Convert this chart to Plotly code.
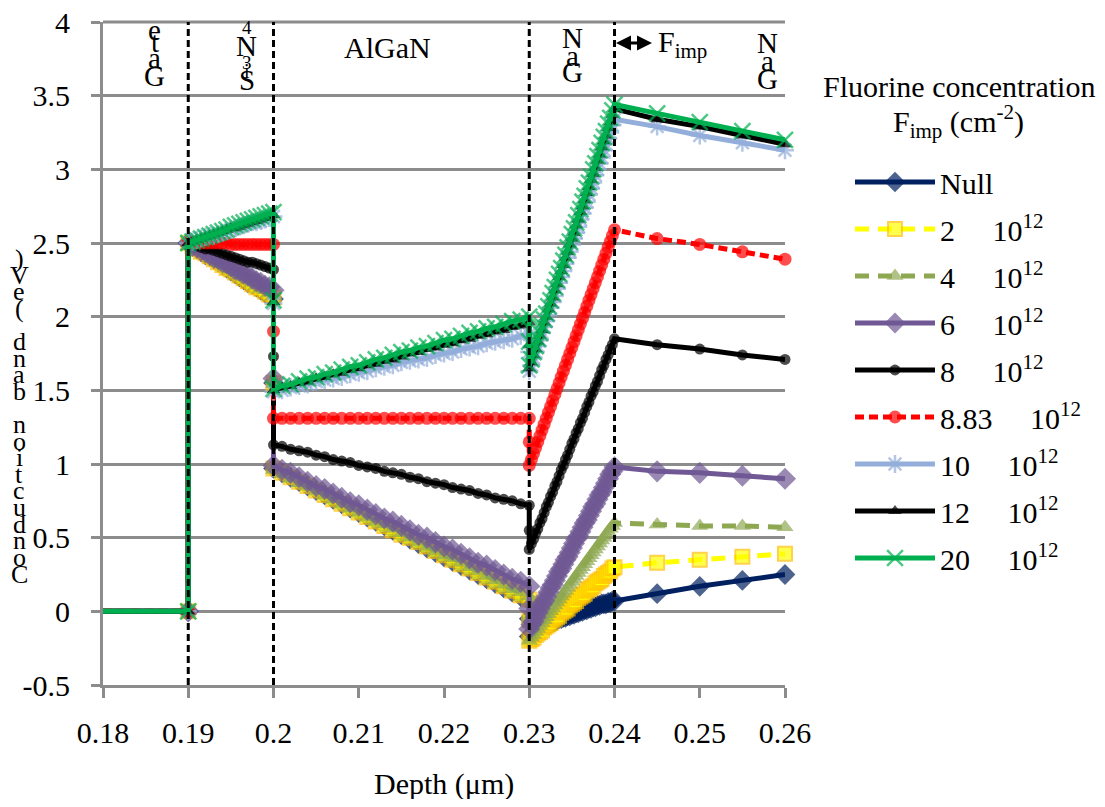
import plotly.graph_objects as go

# ---------------- data ----------------
DEPTH = [0.18, 0.19,
         0.19, 0.1905, 0.191, 0.1915, 0.192, 0.1925, 0.193, 0.1935, 0.194, 0.1945, 0.195,
         0.1955, 0.196, 0.1965, 0.197, 0.1975, 0.198, 0.1985, 0.199, 0.1995, 0.2,
         0.2,
         0.2, 0.201, 0.202, 0.203, 0.204, 0.205, 0.206, 0.207, 0.208, 0.209, 0.21,
         0.211, 0.212, 0.213, 0.214, 0.215, 0.216, 0.217, 0.218, 0.219, 0.22,
         0.221, 0.222, 0.223, 0.224, 0.225, 0.226, 0.227, 0.228, 0.229, 0.23,
         0.23,
         0.23, 0.23025, 0.2305, 0.23075, 0.231, 0.23125, 0.2315, 0.23175, 0.232, 0.23225,
         0.2325, 0.23275, 0.233, 0.23325, 0.2335, 0.23375, 0.234, 0.23425, 0.2345, 0.23475,
         0.235, 0.23525, 0.2355, 0.23575, 0.236, 0.23625, 0.2365, 0.23675, 0.237, 0.23725,
         0.2375, 0.23775, 0.238, 0.23825, 0.2385, 0.23875, 0.239, 0.23925, 0.2395, 0.23975, 0.24,
         0.245, 0.25, 0.255, 0.26]

F_NULL = [0, 0,
          2.50, 2.48, 2.46, 2.44, 2.42, 2.41, 2.39, 2.37, 2.35, 2.33, 2.31,
          2.29, 2.27, 2.25, 2.23, 2.22, 2.20, 2.18, 2.16, 2.14, 2.12,
          1.55,
          0.97, 0.94, 0.91, 0.88, 0.85, 0.82, 0.79, 0.76, 0.73, 0.70, 0.67, 0.64, 0.61, 0.58, 0.55, 0.52,
          0.49, 0.46, 0.43, 0.40, 0.37, 0.34, 0.31, 0.28, 0.25, 0.22, 0.19, 0.16, 0.13, 0.10, 0.07,
          -0.05,
          -0.17, -0.16, -0.14, -0.13, -0.12, -0.12, -0.11, -0.10, -0.09, -0.09,
          -0.08, -0.07, -0.07, -0.06, -0.05, -0.05, -0.04, -0.04, -0.03, -0.03,
          -0.02, -0.02, -0.01, -0.01, 0.00, 0.00, 0.01, 0.01, 0.02, 0.02,
          0.03, 0.03, 0.04, 0.04, 0.05, 0.05, 0.05, 0.06, 0.06, 0.07, 0.07,
          0.12, 0.17, 0.21, 0.25]

F_2 = [0, 0,
       2.50, 2.48, 2.46, 2.44, 2.43, 2.41, 2.39, 2.37, 2.35, 2.33, 2.32,
       2.30, 2.28, 2.26, 2.24, 2.22, 2.20, 2.19, 2.17, 2.15, 2.13,
       1.55,
       0.97, 0.94, 0.91, 0.88, 0.85, 0.82, 0.79, 0.76, 0.73, 0.70, 0.67, 0.64, 0.61, 0.58, 0.55, 0.52,
       0.50, 0.47, 0.44, 0.41, 0.38, 0.35, 0.32, 0.29, 0.26, 0.23, 0.20, 0.17, 0.14, 0.11, 0.08,
       -0.06,
       -0.20, -0.19, -0.18, -0.16, -0.15, -0.14, -0.13, -0.11, -0.10, -0.09,
       -0.08, -0.06, -0.05, -0.04, -0.03, -0.01, 0.00, 0.01, 0.02, 0.04,
       0.05, 0.06, 0.07, 0.09, 0.10, 0.11, 0.12, 0.14, 0.15, 0.16,
       0.17, 0.19, 0.20, 0.21, 0.22, 0.24, 0.25, 0.26, 0.27, 0.29, 0.30,
       0.33, 0.35, 0.37, 0.39]

F_4 = [0, 0,
       2.50, 2.48, 2.46, 2.45, 2.43, 2.41, 2.39, 2.37, 2.36, 2.34, 2.32,
       2.30, 2.28, 2.27, 2.25, 2.23, 2.21, 2.19, 2.18, 2.16, 2.14,
       1.54,
       0.96, 0.93, 0.90, 0.87, 0.85, 0.82, 0.79, 0.76, 0.73, 0.70, 0.67, 0.64, 0.61, 0.59, 0.56, 0.53,
       0.50, 0.47, 0.44, 0.41, 0.38, 0.36, 0.33, 0.30, 0.27, 0.24, 0.21, 0.18, 0.15, 0.13, 0.10,
       -0.05,
       -0.20, -0.18, -0.16, -0.14, -0.12, -0.10, -0.08, -0.06, -0.04, -0.02,
       0.00, 0.02, 0.04, 0.06, 0.08, 0.10, 0.12, 0.14, 0.16, 0.18,
       0.20, 0.22, 0.24, 0.26, 0.28, 0.30, 0.32, 0.34, 0.36, 0.38,
       0.40, 0.42, 0.44, 0.46, 0.48, 0.50, 0.52, 0.54, 0.56, 0.58, 0.60,
       0.59, 0.58, 0.58, 0.57]

F_6 = [0, 0,
       2.50, 2.48, 2.47, 2.45, 2.44, 2.42, 2.40, 2.39, 2.37, 2.36, 2.34,
       2.32, 2.31, 2.29, 2.28, 2.26, 2.24, 2.23, 2.21, 2.20, 2.18,
       1.58,
       0.99, 0.96, 0.94, 0.91, 0.88, 0.85, 0.83, 0.80, 0.77, 0.74, 0.72, 0.69, 0.66, 0.63, 0.61, 0.58,
       0.55, 0.52, 0.50, 0.47, 0.44, 0.42, 0.39, 0.36, 0.33, 0.31, 0.28, 0.25, 0.22, 0.20, 0.17,
       0.02,
       -0.12, -0.09, -0.07, -0.04, -0.01, 0.02, 0.05, 0.07, 0.10, 0.13,
       0.16, 0.18, 0.21, 0.24, 0.27, 0.29, 0.32, 0.35, 0.37, 0.40,
       0.43, 0.46, 0.49, 0.51, 0.54, 0.57, 0.60, 0.62, 0.65, 0.68,
       0.71, 0.73, 0.76, 0.79, 0.81, 0.84, 0.87, 0.90, 0.93, 0.95, 0.98,
       0.95, 0.94, 0.92, 0.90]

F_8 = [0, 0,
       2.50, 2.49, 2.48, 2.47, 2.46, 2.46, 2.45, 2.44, 2.43, 2.42, 2.41,
       2.40, 2.39, 2.38, 2.37, 2.37, 2.36, 2.35, 2.34, 2.33, 2.32,
       1.73,
       1.13, 1.12, 1.10, 1.09, 1.08, 1.06, 1.05, 1.03, 1.02, 1.01, 0.99, 0.98, 0.97, 0.95, 0.94, 0.93,
       0.91, 0.90, 0.88, 0.87, 0.86, 0.84, 0.83, 0.82, 0.80, 0.79, 0.77, 0.76, 0.75, 0.73, 0.72,
       0.55,
       0.42, 0.46, 0.49, 0.53, 0.56, 0.60, 0.63, 0.67, 0.71, 0.74,
       0.78, 0.81, 0.85, 0.88, 0.92, 0.96, 0.99, 1.03, 1.06, 1.10,
       1.14, 1.17, 1.21, 1.24, 1.28, 1.31, 1.35, 1.39, 1.42, 1.46,
       1.49, 1.53, 1.56, 1.60, 1.64, 1.67, 1.71, 1.74, 1.78, 1.81, 1.85,
       1.81, 1.78, 1.74, 1.71]

F_883 = [0, 0,
         2.50, 2.50, 2.50, 2.50, 2.50, 2.50, 2.50, 2.50, 2.50, 2.50, 2.49,
         2.49, 2.49, 2.49, 2.49, 2.49, 2.49, 2.49, 2.49, 2.49, 2.49,
         1.90,
         1.31, 1.31, 1.31, 1.31, 1.31, 1.31, 1.31, 1.31, 1.31, 1.31, 1.31, 1.31, 1.31, 1.31, 1.31, 1.31,
         1.31, 1.31, 1.31, 1.31, 1.31, 1.31, 1.31, 1.31, 1.31, 1.31, 1.31, 1.31, 1.31, 1.31, 1.31,
         1.15,
         0.99, 1.03, 1.07, 1.11, 1.15, 1.19, 1.23, 1.27, 1.31, 1.35,
         1.39, 1.43, 1.47, 1.51, 1.55, 1.59, 1.63, 1.67, 1.71, 1.75,
         1.79, 1.83, 1.87, 1.91, 1.95, 1.99, 2.03, 2.07, 2.11, 2.15,
         2.19, 2.23, 2.27, 2.31, 2.35, 2.39, 2.43, 2.47, 2.51, 2.55, 2.59,
         2.53, 2.49, 2.44, 2.39]

F_10 = [0, 0,
        2.50, 2.51, 2.52, 2.53, 2.54, 2.55, 2.55, 2.56, 2.57, 2.58, 2.59,
        2.60, 2.61, 2.62, 2.63, 2.64, 2.64, 2.65, 2.66, 2.67, 2.68,
        2.09,
        1.49, 1.50, 1.52, 1.53, 1.54, 1.56, 1.57, 1.58, 1.59, 1.61, 1.62, 1.63, 1.65, 1.66, 1.67, 1.69,
        1.70, 1.71, 1.72, 1.74, 1.75, 1.76, 1.78, 1.79, 1.80, 1.82, 1.83, 1.84, 1.85, 1.87, 1.88,
        1.76,
        1.63, 1.67, 1.72, 1.76, 1.80, 1.84, 1.89, 1.93, 1.97, 2.01,
        2.06, 2.10, 2.14, 2.19, 2.23, 2.27, 2.31, 2.36, 2.40, 2.44,
        2.49, 2.53, 2.57, 2.61, 2.66, 2.70, 2.74, 2.78, 2.83, 2.87,
        2.91, 2.96, 3.00, 3.04, 3.08, 3.13, 3.17, 3.21, 3.25, 3.30, 3.34,
        3.29, 3.23, 3.18, 3.13]

F_12 = [0, 0,
        2.50, 2.51, 2.52, 2.53, 2.54, 2.55, 2.56, 2.57, 2.58, 2.59, 2.60,
        2.60, 2.61, 2.62, 2.63, 2.64, 2.65, 2.66, 2.67, 2.68, 2.69,
        2.10,
        1.50, 1.52, 1.53, 1.55, 1.56, 1.58, 1.59, 1.61, 1.62, 1.64, 1.65, 1.67, 1.68, 1.70, 1.71, 1.73,
        1.75, 1.76, 1.78, 1.79, 1.81, 1.82, 1.84, 1.85, 1.87, 1.88, 1.90, 1.91, 1.93, 1.94, 1.96,
        1.81,
        1.65, 1.69, 1.74, 1.78, 1.83, 1.87, 1.91, 1.96, 2.00, 2.05,
        2.09, 2.13, 2.18, 2.22, 2.27, 2.31, 2.35, 2.40, 2.44, 2.49,
        2.53, 2.57, 2.62, 2.66, 2.71, 2.75, 2.79, 2.84, 2.88, 2.93,
        2.97, 3.01, 3.06, 3.10, 3.15, 3.19, 3.23, 3.28, 3.32, 3.37, 3.41,
        3.34, 3.29, 3.23, 3.17]

F_20 = [0, 0,
        2.50, 2.51, 2.52, 2.53, 2.54, 2.55, 2.56, 2.57, 2.58, 2.59, 2.61,
        2.62, 2.63, 2.64, 2.65, 2.66, 2.67, 2.68, 2.69, 2.70, 2.71,
        2.11,
        1.51, 1.53, 1.54, 1.56, 1.58, 1.59, 1.61, 1.62, 1.64, 1.66, 1.67, 1.69, 1.71, 1.72, 1.74, 1.76,
        1.77, 1.79, 1.80, 1.82, 1.84, 1.85, 1.87, 1.89, 1.90, 1.92, 1.93, 1.95, 1.97, 1.98, 2.00,
        1.83,
        1.67, 1.71, 1.76, 1.80, 1.85, 1.89, 1.94, 1.98, 2.02, 2.07,
        2.11, 2.16, 2.20, 2.25, 2.29, 2.33, 2.38, 2.42, 2.47, 2.51,
        2.56, 2.60, 2.64, 2.69, 2.73, 2.78, 2.82, 2.87, 2.91, 2.95,
        3.00, 3.04, 3.09, 3.13, 3.18, 3.22, 3.26, 3.31, 3.35, 3.40, 3.44,
        3.38, 3.32, 3.26, 3.20]

SERIES_LABELS = ["Null", "2", "4", "6", "8", "8.83", "10", "12", "20"]
SERIES_VALUES = [F_NULL, F_2, F_4, F_6, F_8, F_883, F_10, F_12, F_20]

X_TICKS = [0.18, 0.19, 0.2, 0.21, 0.22, 0.23, 0.24, 0.25, 0.26]
X_TICK_TEXT = ["0.18", "0.19", "0.2", "0.21", "0.22", "0.23", "0.24", "0.25", "0.26"]
Y_TICKS = [-0.5, 0, 0.5, 1, 1.5, 2, 2.5, 3, 3.5, 4]
Y_TICK_TEXT = ["-0.5", "0", "0.5", "1", "1.5", "2", "2.5", "3", "3.5", "4"]
Y_MIN, Y_MAX = -0.5, 4
INTERFACES = [0.19, 0.2, 0.23, 0.24]

# ---------------- styles ----------------
FONT = "Liberation Serif, Times New Roman, serif"
FS = 30
GRID = "#8c8c8c"
TXT = dict(family=FONT, size=FS, color="black")

STYLES = [
    dict(color="#002060", dash="solid", symbol="diamond", msize=16, mline=None, mfill="#002060"),
    dict(color="#FFFF00", dash="14px,9px", symbol="square", msize=14, mline="#FFC000", mfill="#FFFF00"),
    dict(color="#8EA852", dash="14px,9px", symbol="triangle-up", msize=15, mline=None, mfill="#8EA852"),
    dict(color="#6F5893", dash="solid", symbol="diamond", msize=17, mline=None, mfill="#6F5893"),
    dict(color="#000000", dash="solid", symbol="circle", msize=11, mline=None, mfill="#000000"),
    dict(color="#FF0000", dash="9px,5px", symbol="circle", msize=13, mline=None, mfill="#FF0000"),
    dict(color="#93AEDA", dash="solid", symbol="asterisk-open", msize=15, mline="#93AEDA", mfill="#93AEDA"),
    dict(color="#000000", dash="solid", symbol="triangle-up", msize=12, mline=None, mfill="#000000"),
    dict(color="#00B050", dash="solid", symbol="x-thin-open", msize=16, mline="#00B050", mfill="#00B050"),
]

NB = "\u00a0" * 5

fig = go.Figure()
for label, vals, st in zip(SERIES_LABELS, SERIES_VALUES, STYLES):
    assert len(vals) == len(DEPTH)
    name = label if label == "Null" else f"{label}{NB}10<sup>12</sup>"
    sizes = [0] + [st["msize"]] * (len(DEPTH) - 1)
    marker = dict(symbol=st["symbol"], size=sizes, color=st["mfill"])
    if st["mline"]:
        marker["line"] = dict(color=st["mline"], width=2.5 if "open" in st["symbol"] else 2)
    else:
        marker["line"] = dict(width=0)
    fig.add_trace(go.Scatter(
        x=DEPTH, y=vals, mode="lines+markers", name=name, legendgroup=label,
        line=dict(color=st["color"], width=5, dash=st["dash"]),
        marker=marker, cliponaxis=False,
    ))

# top gridline (plotly skips the grid line that sits on the plot edge)
fig.add_shape(type="line", xref="paper", yref="paper", x0=0, x1=1, y0=1, y1=1,
              line=dict(color=GRID, width=3), layer="above")

# interface dashed lines
for xv in INTERFACES:
    fig.add_shape(type="line", xref="x", yref="y", x0=xv, x1=xv, y0=Y_MIN, y1=Y_MAX,
                  line=dict(color="black", width=3, dash="7px,4px"), layer="above")

# page has an 8px body margin; plot area in screen pixels:
OFF = 8
L, R, T, B = 103, 786, 22, 685
W, H = 1105 - 2 * OFF, 807 - 2 * OFF


def px_x(px):
    return (px - L) / (R - L)


def px_y(py):
    return (B - py) / (B - T)


def add_text(txt, px, py, size=FS, xanchor="center"):
    fig.add_annotation(text=txt, x=px_x(px), y=px_y(py), xref="paper", yref="paper",
                       showarrow=False, xanchor=xanchor, yanchor="middle",
                       font=dict(family=FONT, size=size, color="black"))


# stacked (upright, bottom-to-top) labels
def add_stack(word, px, ys, sizes):
    for ch, py, sz in zip(word, ys, sizes):
        add_text(ch, px, py, sz)


add_stack("Gate", 155, [76, 58, 42, 30], [29, 29, 29, 29])
add_stack("Si3N4", 247, [80, 71, 62, 46, 28], [29, 20, 19, 29, 19])
add_stack("GaN", 573, [72, 56, 38], [29, 29, 29])
add_stack("GaN", 768, [79, 61, 43], [29, 29, 29])

# y-axis title, rendered as upright stacked characters reading bottom-to-top
YTITLE = "Conduction band (eV)"
for i, ch in enumerate(YTITLE):
    add_text(ch, 19, 574 - i * 16.6, 26)

add_text("AlGaN", 388, 48)

# F_imp arrow
fig.add_annotation(x=0.2444, y=3.857, ax=0.2400, ay=3.857, xref="x", yref="y",
                   axref="x", ayref="y", text="", showarrow=True,
                   arrowhead=2, startarrowhead=2, arrowside="end+start",
                   arrowsize=1, arrowwidth=3, arrowcolor="black")
add_text("F<sub>imp</sub>", 657, 44, xanchor="left")

# legend title
add_text("Fluorine concentration", 960, 86)
add_text("F<sub>imp</sub> (cm<sup>-2</sup>)", 960, 121)

# x-axis title
add_text("Depth (μm)", 445, 784)

fig.update_layout(
    width=W, height=H,
    margin=dict(l=L - OFF, r=W - (R - OFF), t=T - OFF, b=H - (B - OFF), pad=0),
    paper_bgcolor="white", plot_bgcolor="white",
    font=TXT,
    showlegend=True,
    legend=dict(x=px_x(850), y=px_y(156), xanchor="left", yanchor="top",
                traceorder="grouped", tracegroupgap=5,
                font=TXT, bgcolor="rgba(0,0,0,0)", itemwidth=80),
    xaxis=dict(range=[0.18, 0.26], tickvals=X_TICKS, ticktext=X_TICK_TEXT, tickfont=TXT,
               showgrid=False, zeroline=False, showline=True, linecolor=GRID, linewidth=3,
               ticks="outside", ticklen=10, tickwidth=3, tickcolor=GRID,
               ticklabelstandoff=9, automargin=False, ticklabeloverflow="allow"),
    yaxis=dict(range=[Y_MIN, Y_MAX], tickvals=Y_TICKS, ticktext=Y_TICK_TEXT, tickfont=TXT,
               showgrid=True, gridcolor=GRID, gridwidth=3, zeroline=False,
               showline=True, linecolor=GRID, linewidth=3,
               ticks="outside", ticklen=9, tickwidth=3, tickcolor=GRID,
               ticklabelstandoff=15, automargin=False, ticklabeloverflow="allow"),
)

fig.write_html("out.html")
